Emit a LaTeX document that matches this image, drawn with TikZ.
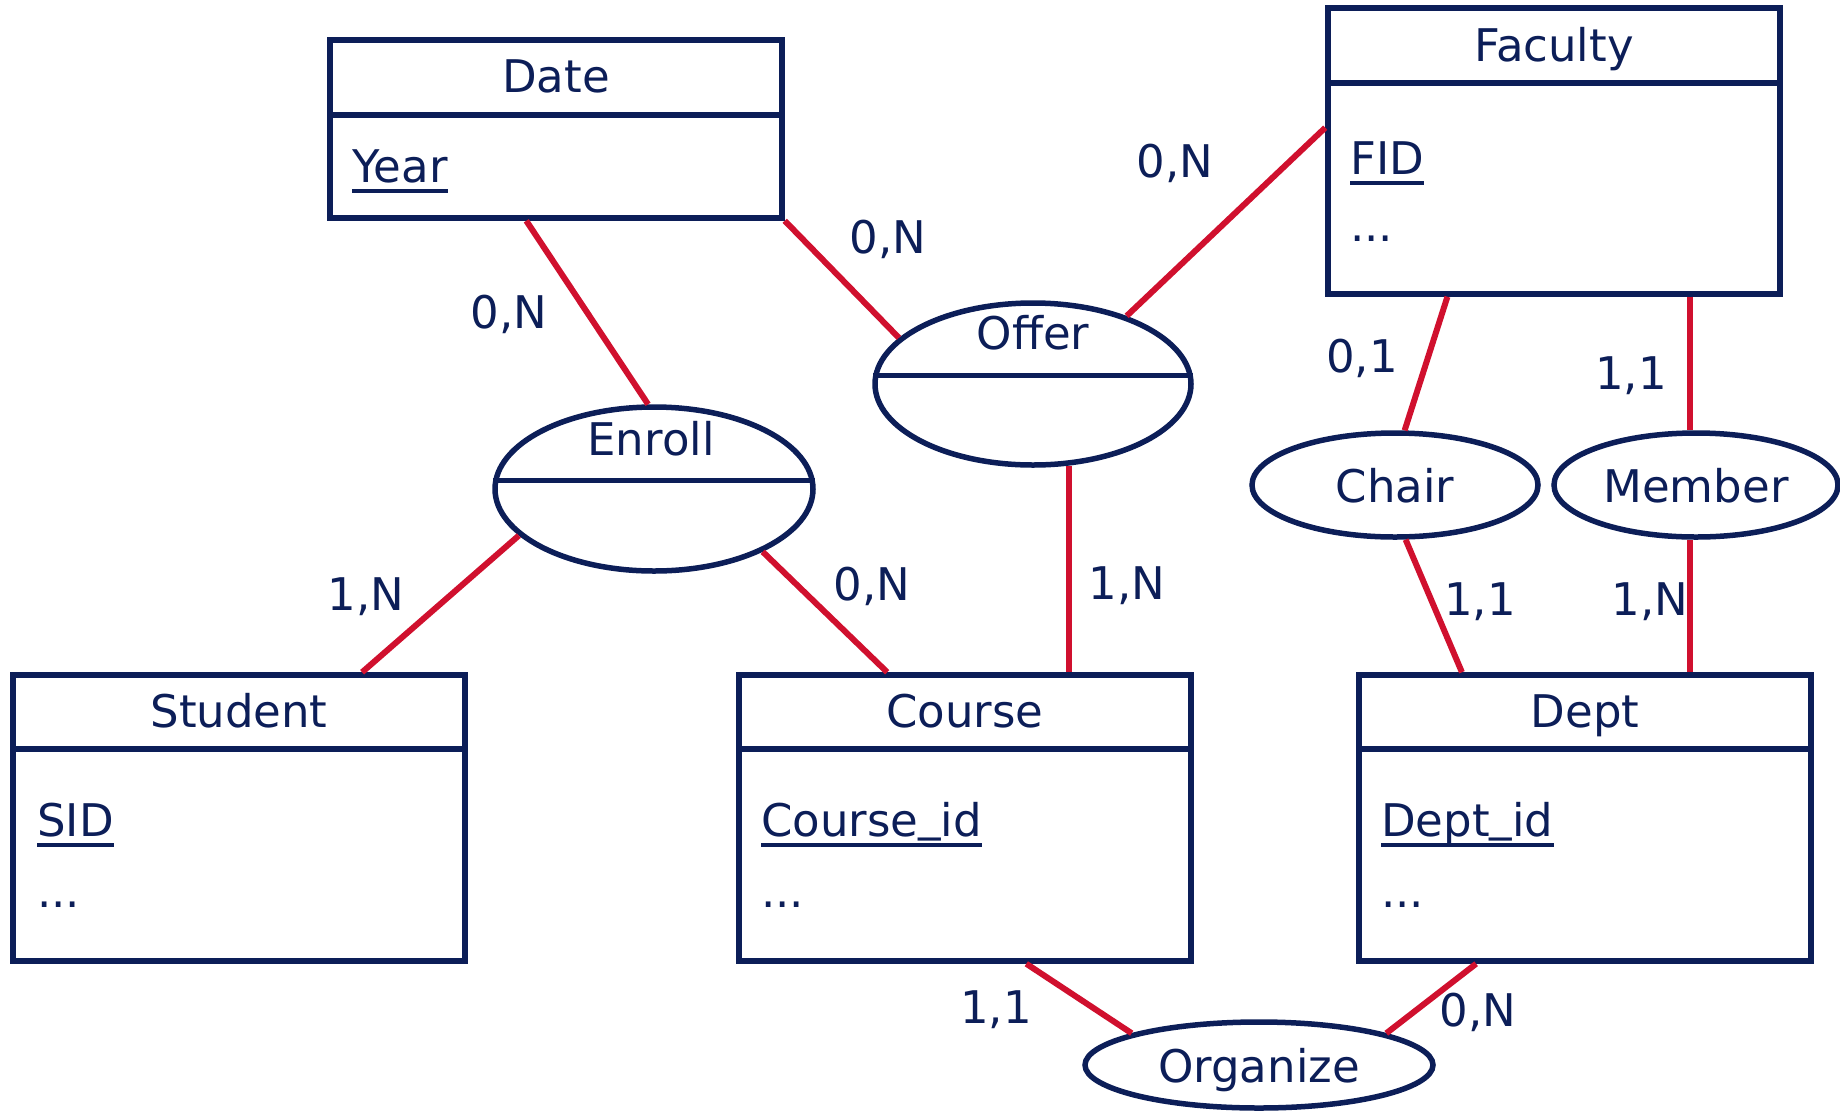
\documentclass[tikz,border=0pt]{standalone}
\usepackage{fontspec}
\setmainfont{DejaVu Sans}
\usetikzlibrary{shapes.geometric,calc}
\definecolor{navy}{RGB}{12,30,88}
\definecolor{linkred}{RGB}{208,16,46}
% underscore lifted so it stays clear of the key underline
\newcommand{\keyus}{\raisebox{6pt}{\_}}

\begin{document}
\begin{tikzpicture}[x=1pt,y=-1pt,
  entity/.style={draw=navy, line width=5.5pt, rectangle, inner sep=0,
                 minimum width=452pt, minimum height=286pt},
  rel/.style={draw=navy, line width=5.5pt, ellipse, inner sep=0},
  txt/.style={text=navy, font=\fontsize{45}{50}\selectfont, inner sep=0},
  keyline/.style={draw=navy, line width=3.5pt},
  divider/.style={draw=navy, line width=5.5pt},
  link/.style={draw=linkred, line width=6pt},
  card/.style={txt, anchor=center}
]
\useasboundingbox (0,0) rectangle (1840,1112);

% ---------- entities ----------
\node[entity, minimum height=178pt] (date) at (556,129) {};
\draw[divider] (date.west |- 0,115) -- (date.east |- 0,115);
\node[txt, anchor=base] (datename) at (556,92) {Date};
\node[txt, anchor=base west] (datekey) at (352,182) {Year};
\draw[keyline] ([yshift=-9pt]datekey.base west) -- ([yshift=-9pt]datekey.base east);

\node[entity] (faculty) at (1554,151) {};
\draw[divider] (faculty.west |- 0,83) -- (faculty.east |- 0,83);
\node[txt, anchor=base] (facultyname) at (1554,61) {Faculty};
\node[txt, anchor=base west] (facultykey) at (1350,174) {FID};
\draw[keyline] ([yshift=-9pt]facultykey.base west) -- ([yshift=-9pt]facultykey.base east);
\node[txt, anchor=base west] (facultymore) at (1350,241) {...};

\node[entity] (student) at (239,818) {};
\draw[divider] (student.west |- 0,749) -- (student.east |- 0,749);
\node[txt, anchor=base] (studentname) at (239,727) {Student};
\node[txt, anchor=base west] (studentkey) at (37,836) {SID};
\draw[keyline] ([yshift=-9pt]studentkey.base west) -- ([yshift=-9pt]studentkey.base east);
\node[txt, anchor=base west] (studentmore) at (37,907) {...};

\node[entity] (course) at (965,818) {};
\draw[divider] (course.west |- 0,749) -- (course.east |- 0,749);
\node[txt, anchor=base] (coursename) at (965,727) {Course};
\node[txt, anchor=base west] (coursekey) at (761,836) {Course\keyus id};
\draw[keyline] ([yshift=-9pt]coursekey.base west) -- ([yshift=-9pt]coursekey.base east);
\node[txt, anchor=base west] (coursemore) at (761,907) {...};

\node[entity] (dept) at (1585,818) {};
\draw[divider] (dept.west |- 0,749) -- (dept.east |- 0,749);
\node[txt, anchor=base] (deptname) at (1585,727) {Dept};
\node[txt, anchor=base west] (deptkey) at (1381,836) {Dept\keyus id};
\draw[keyline] ([yshift=-9pt]deptkey.base west) -- ([yshift=-9pt]deptkey.base east);
\node[txt, anchor=base west] (deptmore) at (1381,907) {...};

% ---------- relationships ----------
\node[rel, minimum width=318pt, minimum height=164pt] (enroll) at (654,489) {};
\draw[divider] (enroll.177) -- (enroll.177 -| enroll.3);
\node[txt, anchor=base] (enrollname) at (651,455) {Enroll};

\node[rel, minimum width=316pt, minimum height=162pt] (offer) at (1033,384) {};
\draw[divider] (offer.177.5) -- (offer.177.5 -| offer.2.5);
\node[txt, anchor=base] (offername) at (1033,349) {Offer};

\node[rel, minimum width=286pt, minimum height=104pt] (chair) at (1395,485) {};
\node[txt, anchor=base] (chairname) at (1395,502) {Chair};

\node[rel, minimum width=284pt, minimum height=104pt] (member) at (1696,485) {};
\node[txt, anchor=base] (membername) at (1696,502) {Member};

\node[rel, minimum width=348pt, minimum height=86pt] (organize) at (1259,1065) {};
\node[txt, anchor=base] (organizename) at (1259,1082) {Organize};

% ---------- connectors ----------
\draw[link] ($(date.south west)!0.435!(date.south east)$) -- (enroll.94);
\draw[link] (date.south east) -- (offer.161);
\draw[link] ($(faculty.north west)!0.42!(faculty.south west)$) -- (offer.36);
\draw[link] (enroll.199) -- ($(student.north west)!0.769!(student.north east)$);
\draw[link] (enroll.330) -- ($(course.north west)!0.33!(course.north east)$);
\draw[link] (offer.294) -- (offer.294 |- course.north);
\draw[link] ($(faculty.south west)!0.267!(faculty.south east)$) -- (chair.80);
\draw[link] ($(faculty.south west)!0.798!(faculty.south east)$) coordinate (fm)
            -- (fm |- member.north);
\draw[link] (chair.281) -- ($(dept.north west)!0.231!(dept.north east)$);
\draw[link] (fm |- member.south) -- (fm |- dept.north);
\draw[link] ($(course.south west)!0.634!(course.south east)$) -- (organize.166);
\draw[link] ($(dept.south west)!0.262!(dept.south east)$) -- (organize.14);

% ---------- cardinalities ----------
\node[card] (c1) at (509,314) {0,N};
\node[card] (c2) at (888,239) {0,N};
\node[card] (c3) at (1175,163) {0,N};
\node[card] (c4) at (366,597) {1,N};
\node[card] (c5) at (872,586) {0,N};
\node[card] (c6) at (1127,586) {1,N};
\node[card] (c7) at (1362,358) {0,1};
\node[card] (c8) at (1631,376) {1,1};
\node[card] (c9) at (1480,602) {1,1};
\node[card] (c10) at (1650,602) {1,N};
\node[card] (c11) at (996,1010) {1,1};
\node[card] (c12) at (1478,1012) {0,N};
\end{tikzpicture}
\end{document}
